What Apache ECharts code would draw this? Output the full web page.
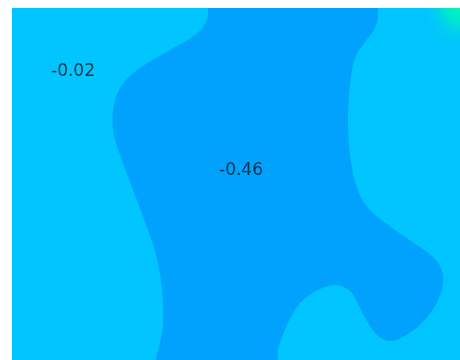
<!DOCTYPE html>
<html>
<head>
<meta charset="utf-8">
<script src="https://cdn.jsdelivr.net/npm/echarts@6/dist/echarts.min.js"></script>
<style>
html, body { margin: 0; padding: 0; background: #fff; }
#chart { width: 460px; height: 360px; }
</style>
</head>
<body>
<div id="chart"></div>
<script>
// contour band of the lower level (-0.46), outline in field units
var blobX = [200, 195, 183, 158, 128, 110, 102, 101, 108, 120, 133, 144, 150, 151, 148,
	263, 266, 275, 288, 308, 325, 338, 346, 355, 365, 377, 389, 403, 416, 426, 431, 429,
	420, 408, 393, 375, 356, 345, 338, 336, 338, 343, 353, 363, 366, 360];
var blobY = [-23, 12, 27, 42, 60, 77, 97, 122, 147, 179, 214, 247, 282, 317, 367,
	367, 342, 317, 295, 281, 277, 283, 296, 313, 327, 333, 330, 321, 308, 292, 275, 260,
	248, 239, 229, 216, 200, 180, 147, 112, 77, 50, 34, 20, 7, -23];
// higher level pocket in the top right corner
var peakX = [450];
var peakY = [-2];
// contour labels
var labelText = ['-0.02', '-0.46'];
var labelX = [61, 229];
var labelY = [64, 163];

var lightColor = '#00c5fe';
var darkColor = '#00a2fe';

var blobData = [];
for (var i = 0; i < blobX.length; i++) {
	blobData.push([blobX[i], blobY[i]]);
}
var labelData = [];
for (var j = 0; j < labelText.length; j++) {
	labelData.push({ name: labelText[j], value: [labelX[j], labelY[j]] });
}

var myChart = echarts.init(document.getElementById('chart'));
var option = {
	animation: false,
	grid: {
		left: 12, top: 8, right: 0, bottom: 0,
		show: true,
		backgroundColor: lightColor,
		borderWidth: 0
	},
	xAxis: { type: 'value', min: 0, max: 448, show: false },
	yAxis: { type: 'value', min: 0, max: 352, inverse: true, show: false },
	series: [
		{
			type: 'custom',
			clip: true,
			data: [0],
			renderItem: function(params, api) {
				var pts = [];
				for (var k = 0; k < blobData.length; k++) {
					pts.push(api.coord(blobData[k]));
				}
				return {
					type: 'polygon',
					shape: { points: pts, smooth: 0.35 },
					style: { fill: darkColor }
				};
			}
		},
		{
			type: 'custom',
			clip: true,
			data: [[peakX[0], peakY[0]]],
			renderItem: function(params, api) {
				var c = api.coord([api.value(0), api.value(1)]);
				return {
					type: 'circle',
					shape: { cx: c[0], cy: c[1], r: 42 },
					style: {
						fill: {
							type: 'radial', x: 0.5, y: 0.5, r: 0.5,
							colorStops: [
								{ offset: 0, color: 'rgba(0,255,170,1)' },
								{ offset: 0.4, color: 'rgba(0,235,200,0.85)' },
								{ offset: 1, color: 'rgba(0,197,254,0)' }
							]
						}
					}
				};
			}
		},
		{
			type: 'scatter',
			symbolSize: 0,
			data: labelData,
			label: {
				show: true,
				position: 'inside',
				formatter: '{b}',
				fontFamily: 'DejaVu Sans',
				fontSize: 17,
				color: '#0b1824'
			}
		}
	]
};
myChart.setOption(option);
</script>
</body>
</html>
